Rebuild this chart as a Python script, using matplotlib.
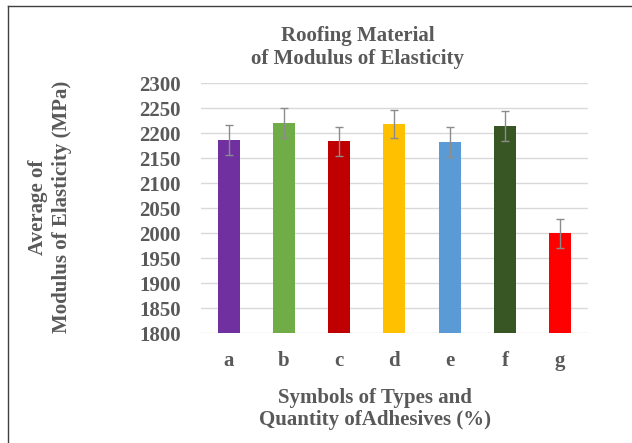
import matplotlib.pyplot as plt
from matplotlib.lines import Line2D

# data
symbols = ["a", "b", "c", "d", "e", "f", "g"]
modulus = [2187, 2220, 2184, 2218, 2183, 2214, 2000]
errors = [30, 30, 29, 28, 30, 30, 29]
colors = ["#7030a0", "#70ad47", "#c00000", "#ffc000", "#5b9bd5", "#375623", "#ff0000"]
yticks = [1800, 1850, 1900, 1950, 2000, 2050, 2100, 2150, 2200, 2250, 2300]

textgray = "#595959"
plt.rcParams["font.family"] = ["Liberation Serif", "DejaVu Serif"]
plt.rcParams["font.weight"] = "bold"

fig = plt.figure(figsize=(6.32, 4.43), dpi=100)
ax = fig.add_axes([0.318, 0.2476, 0.612, 0.5644])

x = range(len(symbols))
ax.bar(x, [m - 1800 for m in modulus], bottom=1800, width=0.4, color=colors, zorder=3)
ax.errorbar(x, modulus, yerr=errors, fmt="none", ecolor="#8c8c8c", elinewidth=1,
            capsize=2.7, capthick=1, zorder=4)

ax.set_ylim(1800, 2300)
ax.set_xlim(-0.5, len(symbols) - 0.5)
ax.set_yticks(yticks)
ax.set_xticks(list(x))
ax.set_xticklabels(symbols)
ax.grid(axis="y", color="#d9d9d9", linewidth=1, zorder=0)
for s in ax.spines.values():
    s.set_visible(False)
ax.tick_params(length=0, colors=textgray, labelsize=15)
ax.tick_params(axis="y", pad=14.4)
ax.tick_params(axis="x", pad=12.5)
for lab in ax.get_xticklabels() + ax.get_yticklabels():
    lab.set_fontweight("bold")

# chart title, two lines
fig.text(0.566, 0.9074, "Roofing Material", ha="center", va="baseline",
         fontsize=15, color=textgray, fontweight="bold")
fig.text(0.566, 0.8555, "of Modulus of Elasticity", ha="center", va="baseline",
         fontsize=15, color=textgray, fontweight="bold")

# x axis title
fig.text(0.594, 0.0903, "Symbols of Types and", ha="center", va="baseline",
         fontsize=15, color=textgray, fontweight="bold")
fig.text(0.594, 0.0406, "Quantity ofAdhesives (%)", ha="center", va="baseline",
         fontsize=15, color=textgray, fontweight="bold")

# y axis title
fig.text(0.060, 0.532, "Average of", ha="center", va="center", rotation=90,
         fontsize=15, color=textgray, fontweight="bold")
fig.text(0.098, 0.532, "Modulus of Elasticity (MPa)", ha="center", va="center", rotation=90,
         fontsize=15, color=textgray, fontweight="bold")

# frame lines at top and left edge of the screenshot
fig.add_artist(Line2D([0.013, 0.013], [0, 0.986], transform=fig.transFigure, color="#404040", lw=1))
fig.add_artist(Line2D([0.013, 1], [0.986, 0.986], transform=fig.transFigure, color="#404040", lw=1))

fig.savefig("out.png", dpi=100)
